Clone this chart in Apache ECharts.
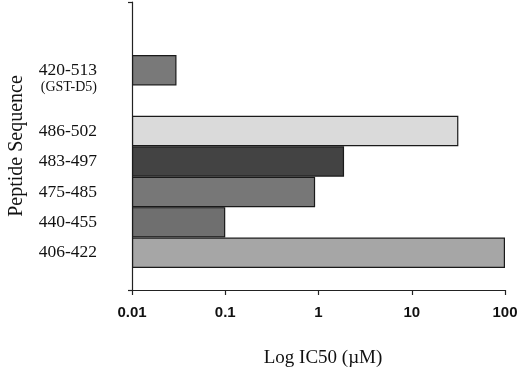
<!DOCTYPE html>
<html>
<head>
<meta charset="utf-8">
<script src="https://cdn.jsdelivr.net/npm/echarts@6/dist/echarts.min.js"></script>
<style>
  html, body { margin: 0; padding: 0; background: #fff; }
  #chart { width: 520px; height: 368px; }
</style>
</head>
<body>
<div id="chart"></div>
<script>
// peptides, bottom to top; '' leaves the empty row under GST-D5
const peptides = ['406-422', '440-455', '475-485', '483-497', '486-502', '', '420-513'];
const peptideNotes = ['', '', '', '', '', '', '(GST-D5)'];
const ic50 = [100, 0.1, 0.92, 1.88, 31.6, '-', 0.03];
const barColors = ['#a6a6a6', '#6f6f6f', '#777777', '#434343', '#dadada', '#ffffff', '#797979'];
const logTicks = [0.01, 0.1, 1, 10, 100];

const serif = '"Liberation Serif", "Times New Roman", serif';
const sans = '"Liberation Sans", Arial, sans-serif';
const axisColor = '#222';

const chart = echarts.init(document.getElementById('chart'));

chart.setOption({
  animation: false,
  grid: [
    // bars
    { left: 132, right: 15, top: 55, bottom: 100, outerBoundsMode: 'none' },
    // full frame: long y axis line and the log x axis
    { left: 132, right: 15, top: 2, bottom: 78, outerBoundsMode: 'none' }
  ],
  xAxis: [
    {
      type: 'log',
      gridIndex: 0,
      logBase: 10,
      min: logTicks[0],
      max: logTicks[logTicks.length - 1],
      startValue: logTicks[0],
      show: false
    },
    {
      type: 'log',
      gridIndex: 1,
      logBase: 10,
      min: logTicks[0],
      max: logTicks[logTicks.length - 1],
      axisLine: { show: true, onZero: false, lineStyle: { color: axisColor, width: 1.2 } },
      axisTick: { show: true, length: 5, lineStyle: { color: axisColor, width: 1.2 } },
      axisLabel: {
        margin: 15,
        fontFamily: sans,
        fontWeight: 'bold',
        fontSize: 15,
        color: '#111',
        formatter: (v) => String(v)
      },
      splitLine: { show: false },
      name: 'Log IC50 (\u00b5M)',
      nameLocation: 'middle',
      nameGap: 59,
      nameTextStyle: { fontFamily: serif, fontSize: 19, color: '#111', padding: [0, 0, 0, 9] }
    }
  ],
  yAxis: [
    {
      type: 'category',
      gridIndex: 0,
      data: peptides,
      axisLine: { show: false },
      axisTick: { show: false },
      axisLabel: {
        interval: 0,
        margin: 35,
        color: '#111',
        fontFamily: serif,
        fontSize: 17.5
      }
    },
    // same rows again, only for the small note under 420-513
    {
      type: 'category',
      gridIndex: 0,
      position: 'left',
      offset: 0,
      data: peptides,
      axisLine: { show: false },
      axisTick: { show: false },
      axisLabel: {
        interval: 0,
        margin: 35,
        color: '#111',
        fontFamily: serif,
        fontSize: 14,
        verticalAlign: 'top',
        lineHeight: 34,
        formatter: (v, i) => peptideNotes[i]
      }
    },
    {
      type: 'value',
      gridIndex: 1,
      min: 0,
      max: 1,
      interval: 1,
      axisLine: { show: true, onZero: false, lineStyle: { color: axisColor, width: 1.2 } },
      axisTick: { show: true, length: 4, lineStyle: { color: axisColor, width: 1.2 } },
      axisLabel: { show: false },
      splitLine: { show: false },
      name: 'Peptide Sequence',
      nameLocation: 'middle',
      nameGap: 105,
      nameTextStyle: { fontFamily: serif, fontSize: 20, color: '#111' }
    }
  ],
  series: [
    {
      type: 'bar',
      xAxisIndex: 0,
      yAxisIndex: 0,
      barCategoryGap: '0%',
      data: ic50.map((v, i) => ({
        value: v,
        itemStyle: { color: barColors[i] }
      })),
      itemStyle: { borderColor: '#1a1a1a', borderWidth: 1.2 }
    }
  ]
});
</script>
</body>
</html>
